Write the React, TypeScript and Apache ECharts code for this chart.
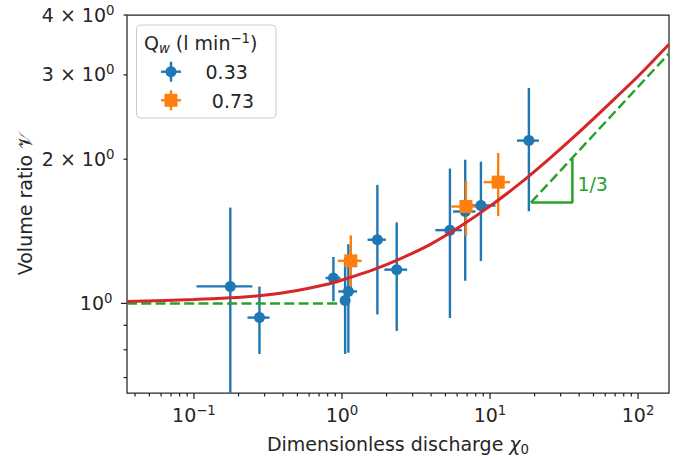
import React, { useEffect, useRef } from 'react';
import * as echarts from 'echarts';

// ---- axis extents & ticks ----
const X_MIN = 0.0353;
const X_MAX = 161.8;
const Y_MIN = 0.65;
const Y_MAX = 4.0;

const X_MAJOR = [0.1, 1, 10, 100];
const X_MAJOR_LABELS = ['10{sup|−1}', '10{sup|0}', '10{sup|1}', '10{sup|2}'];
const X_MINOR = [0.04, 0.05, 0.06, 0.07, 0.08, 0.09, 0.2, 0.3, 0.4, 0.5, 0.6, 0.7, 0.8, 0.9, 2, 3, 4, 5, 6, 7, 8, 9, 20, 30, 40, 50, 60, 70, 80, 90];
const Y_MAJOR = [1];
const Y_MAJOR_LABELS = ['10{sup|0}'];
const Y_MINOR = [0.7, 0.8, 0.9, 2, 3, 4];
const Y_MINOR_LABELS = ['', '', '', '2 × 10{sup|0}', '3 × 10{sup|0}', '4 × 10{sup|0}'];

// ---- data: Qw = 0.33 l/min ----
const BLUE_X = [0.176, 0.277, 0.875, 1.05, 1.104, 1.734, 2.343, 5.36, 6.8, 8.68, 18.3];
const BLUE_Y = [1.085, 0.934, 1.13, 1.0145, 1.059, 1.358, 1.176, 1.422, 1.555, 1.601, 2.187];
const BLUE_XERR = [0.072, 0.047, 0.1, 0.03, 0.16, 0.245, 0.41, 1.09, 1.17, 2.2, 3.1];
const BLUE_YERR = [0.5, 0.15, 0.12, 0.23, 0.27, 0.41, 0.3, 0.49, 0.44, 0.375, 0.63];

// ---- data: Qw = 0.73 l/min ----
const ORANGE_X = [1.147, 6.88, 11.36];
const ORANGE_Y = [1.227, 1.593, 1.791];
const ORANGE_XERR = [0.21, 1.4, 2.3];
const ORANGE_YERR = [0.16, 0.21, 0.27];

// ---- model curve ----
const RED_X = [0.0353, 0.1, 0.176, 0.316, 0.5, 0.794, 1, 1.585, 2.512, 3.98, 6.31, 10, 15.85, 25.1, 39.8, 63.1, 100, 161.8];
const RED_Y = [1.0097, 1.0186, 1.027, 1.042, 1.064, 1.096, 1.119, 1.172, 1.242, 1.33, 1.449, 1.596, 1.778, 2.004, 2.275, 2.6, 2.979, 3.475];

// ---- asymptotes & slope triangle ----
const PLATEAU_X = [0.0353, 0.93];
const PLATEAU_Y = [1, 1];
const SLOPE_X = [18.9, 161.8];
const SLOPE_Y = [1.624, 3.325];
const TRI_X = [18.9, 36, 36];
const TRI_Y = [1.624, 1.624, 2.01];
const TRI_LABEL = ['1/3'];
const TRI_LABEL_X = [36];
const TRI_LABEL_Y = [1.777];

const LEGEND_TITLE = 'Q{subi|w} (l min{sup|−1})';
const LEGEND_LABELS = ['0.33', '0.73'];

const FONT = 'DejaVu Sans';
const TEXT = '#262626';
const BLUE = '#1f77b4';
const ORANGE = '#ff7f0e';
const RED = '#d62728';
const GREEN = '#2ca02c';
const FS = 19;
const FS_SMALL = 13.3;

const rich = {
  sup: { fontFamily: FONT, fontSize: FS_SMALL, height: 13, verticalAlign: 'top', fill: TEXT },
  sub: { fontFamily: FONT, fontSize: FS_SMALL, height: 12, verticalAlign: 'bottom', fill: TEXT },
  subi: { fontFamily: FONT, fontSize: FS_SMALL, fontStyle: 'italic', height: 12, verticalAlign: 'bottom', fill: TEXT },
  chi: { fontFamily: FONT, fontSize: FS, fontStyle: 'italic', fill: TEXT },
};

function baseText(text: string, align: string, vAlign: string, extra: any = {}) {
  return {
    text,
    fontFamily: FONT,
    fontSize: FS,
    lineHeight: 22,
    fill: TEXT,
    align,
    textAlign: align,
    verticalAlign: vAlign,
    textVerticalAlign: vAlign,
    rich,
    ...extra,
  };
}

function errorSeries(xs: number[], ys: number[], xe: number[], ye: number[], color: string) {
  return {
    type: 'custom',
    silent: true,
    data: xs.map((x, i) => [x, ys[i], xe[i], ye[i]]),
    encode: { x: 0, y: 1 },
    renderItem: (params: any, api: any) => {
      const x = api.value(0);
      const y = api.value(1);
      const dx = api.value(2);
      const dy = api.value(3);
      const a = api.coord([x - dx, y]);
      const b = api.coord([x + dx, y]);
      const c = api.coord([x, Math.min(y + dy, Y_MAX)]);
      const d = api.coord([x, Math.max(y - dy, Y_MIN)]);
      return {
        type: 'group',
        children: [
          { type: 'line', shape: { x1: a[0], y1: a[1], x2: b[0], y2: b[1] }, style: { stroke: color, lineWidth: 2.4 } },
          { type: 'line', shape: { x1: c[0], y1: c[1], x2: d[0], y2: d[1] }, style: { stroke: color, lineWidth: 2.4 } },
        ],
      };
    },
  };
}

function tickSeries(values: number[], labels: string[], axis: 'x' | 'y', len: number, labelGap: number) {
  return {
    type: 'custom',
    silent: true,
    clip: false,
    data: values.map((v) => (axis === 'x' ? [v, Y_MIN] : [X_MIN, v])),
    encode: { x: 0, y: 1 },
    renderItem: (params: any, api: any) => {
      const p = api.coord([api.value(0), api.value(1)]);
      const label = labels[params.dataIndex] || '';
      const children: any[] = [];
      if (axis === 'x') {
        children.push({ type: 'line', shape: { x1: p[0], y1: p[1], x2: p[0], y2: p[1] + len }, style: { stroke: TEXT, lineWidth: 1.25 } });
        if (label) children.push({ type: 'text', x: p[0], y: p[1] + labelGap, style: baseText(label, 'center', 'middle') });
      } else {
        children.push({ type: 'line', shape: { x1: p[0], y1: p[1], x2: p[0] - len, y2: p[1] }, style: { stroke: TEXT, lineWidth: 1.25 } });
        if (label) children.push({ type: 'text', x: p[0] - labelGap, y: p[1] - 0.5, style: baseText(label, 'right', 'middle') });
      }
      return { type: 'group', children };
    },
  };
}

function lineData(xs: number[], ys: number[]) {
  return xs.map((x, i) => [x, ys[i]]);
}

export default function App() {
  const ref = useRef<HTMLDivElement>(null);

  useEffect(() => {
    if (!ref.current) return;
    const chart = echarts.init(ref.current, undefined, { renderer: 'svg' });
    const option: any = {
      animation: false,
      backgroundColor: '#ffffff',
      grid: {
        left: 127,
        top: 15,
        width: 542,
        height: 378,
        show: true,
        borderColor: TEXT,
        borderWidth: 1.25,
        backgroundColor: 'transparent',
      },
      xAxis: {
        type: 'log',
        logBase: 10,
        min: X_MIN,
        max: X_MAX,
        axisLine: { show: false },
        axisTick: { show: false },
        axisLabel: { show: false },
        splitLine: { show: false },
      },
      yAxis: {
        type: 'log',
        logBase: 10,
        min: Y_MIN,
        max: Y_MAX,
        axisLine: { show: false },
        axisTick: { show: false },
        axisLabel: { show: false },
        splitLine: { show: false },
      },
      series: [
        {
          type: 'line',
          silent: true,
          data: lineData(PLATEAU_X, PLATEAU_Y),
          showSymbol: false,
          symbol: 'none',
          lineStyle: { color: GREEN, width: 2.5, type: [10, 4.3] },
        },
        {
          type: 'line',
          silent: true,
          data: lineData(SLOPE_X, SLOPE_Y),
          showSymbol: false,
          symbol: 'none',
          lineStyle: { color: GREEN, width: 2.5, type: [10, 4.3] },
        },
        {
          type: 'line',
          silent: true,
          data: lineData(TRI_X, TRI_Y),
          showSymbol: false,
          symbol: 'none',
          lineStyle: { color: GREEN, width: 2.5 },
        },
        {
          type: 'custom',
          silent: true,
          data: lineData(TRI_LABEL_X, TRI_LABEL_Y),
          encode: { x: 0, y: 1 },
          renderItem: (params: any, api: any) => {
            const p = api.coord([api.value(0), api.value(1)]);
            return {
              type: 'text',
              x: p[0] + 5,
              y: p[1],
              style: baseText(TRI_LABEL[params.dataIndex], 'left', 'middle', { fill: GREEN }),
            };
          },
        },
        {
          type: 'line',
          silent: true,
          data: lineData(RED_X, RED_Y),
          showSymbol: false,
          symbol: 'none',
          smooth: 0.3,
          lineStyle: { color: RED, width: 3 },
        },
        errorSeries(BLUE_X, BLUE_Y, BLUE_XERR, BLUE_YERR, BLUE),
        {
          type: 'scatter',
          silent: true,
          data: lineData(BLUE_X, BLUE_Y),
          symbol: 'circle',
          symbolSize: 11,
          itemStyle: { color: BLUE, opacity: 1 },
        },
        errorSeries(ORANGE_X, ORANGE_Y, ORANGE_XERR, ORANGE_YERR, ORANGE),
        {
          type: 'scatter',
          silent: true,
          data: lineData(ORANGE_X, ORANGE_Y),
          symbol: 'rect',
          symbolSize: 13,
          itemStyle: { color: ORANGE, opacity: 1 },
        },
        tickSeries(X_MAJOR, X_MAJOR_LABELS, 'x', 6, 22),
        tickSeries(X_MINOR, [], 'x', 3.5, 0),
        tickSeries(Y_MAJOR, Y_MAJOR_LABELS, 'y', 6, 14.5),
        tickSeries(Y_MINOR, Y_MINOR_LABELS, 'y', 3.5, 12.5),
      ],
      graphic: [
        {
          type: 'text',
          x: 398,
          y: 444,
          z: 100,
          style: baseText('Dimensionless discharge {chi|χ}{sub|0}', 'center', 'middle'),
        },
        {
          type: 'text',
          x: 25,
          y: 204,
          rotation: Math.PI / 2,
          z: 100,
          style: baseText('Volume ratio 𝒱', 'center', 'middle'),
        },
        {
          type: 'rect',
          z: 100,
          shape: { x: 136.5, y: 25, width: 139.5, height: 93, r: 4 },
          style: { fill: 'rgba(255,255,255,0.8)', stroke: '#cccccc', lineWidth: 1 },
        },
        {
          type: 'text',
          x: 144,
          y: 43.4,
          z: 101,
          style: baseText(LEGEND_TITLE, 'left', 'middle'),
        },
        { type: 'line', z: 101, shape: { x1: 161, y1: 71.7, x2: 181, y2: 71.7 }, style: { stroke: BLUE, lineWidth: 2.4 } },
        { type: 'line', z: 101, shape: { x1: 171, y1: 61.7, x2: 171, y2: 81.7 }, style: { stroke: BLUE, lineWidth: 2.4 } },
        { type: 'circle', z: 102, shape: { cx: 171, cy: 71.7, r: 5.5 }, style: { fill: BLUE } },
        { type: 'text', x: 205.5, y: 72.4, z: 101, style: baseText(LEGEND_LABELS[0], 'left', 'middle') },
        { type: 'line', z: 101, shape: { x1: 161, y1: 100.3, x2: 181, y2: 100.3 }, style: { stroke: ORANGE, lineWidth: 2.4 } },
        { type: 'line', z: 101, shape: { x1: 171, y1: 90.3, x2: 171, y2: 110.3 }, style: { stroke: ORANGE, lineWidth: 2.4 } },
        { type: 'rect', z: 102, shape: { x: 164.5, y: 93.8, width: 13, height: 13 }, style: { fill: ORANGE } },
        { type: 'text', x: 211.8, y: 101.4, z: 101, style: baseText(LEGEND_LABELS[1], 'left', 'middle') },
      ],
    };
    chart.setOption(option);
    return () => {
      chart.dispose();
    };
  }, []);

  return (
    <div
      ref={ref}
      style={{ position: 'absolute', left: 0, top: 0, width: 682, height: 459, background: '#fff' }}
    />
  );
}
